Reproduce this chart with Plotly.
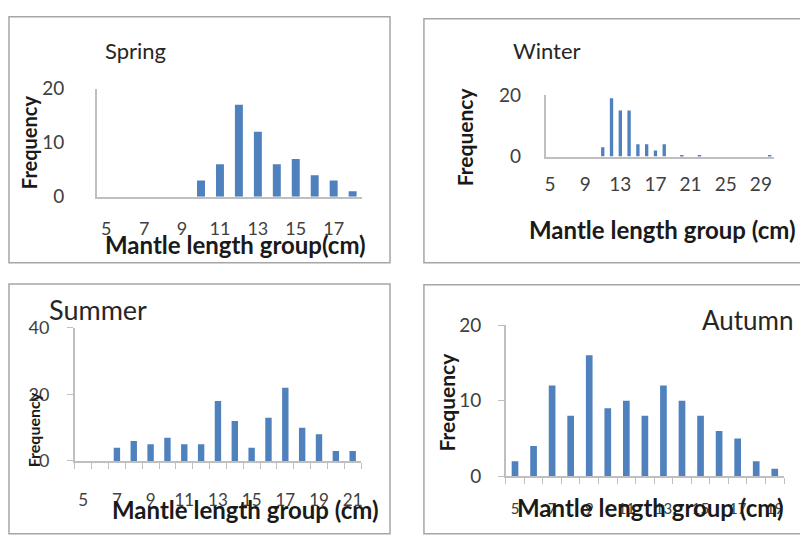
import plotly.graph_objects as go

W, H = 800, 539

# ---------------- data ----------------
spring_groups = [5, 6, 7, 8, 9, 10, 11, 12, 13, 14, 15, 16, 17, 18]
spring_freq = [0, 0, 0, 0, 0, 3, 6, 17, 12, 6, 7, 4, 3, 1]

winter_groups = [11, 12, 13, 14, 15, 16, 17, 18, 20, 22, 30]
winter_freq = [3, 19, 15, 15, 4, 4, 2, 4, 0.5, 0.5, 0.5]

summer_groups = [5, 6, 7, 8, 9, 10, 11, 12, 13, 14, 15, 16, 17, 18, 19, 20, 21]
summer_freq = [0, 0, 4, 6, 5, 7, 5, 5, 18, 12, 4, 13, 22, 10, 8, 3, 3]

autumn_groups = [5, 6, 7, 8, 9, 10, 11, 12, 13, 14, 15, 16, 17, 18, 19]
autumn_freq = [2, 4, 12, 8, 16, 9, 10, 8, 12, 10, 8, 6, 5, 2, 1]

spring_ticks = [5, 7, 9, 11, 13, 15, 17]
winter_ticks = [5, 9, 13, 17, 21, 25, 29]
summer_ticks = [5, 7, 9, 11, 13, 15, 17, 19, 21]
autumn_ticks = [5, 7, 9, 11, 13, 15, 17, 19]

BAR = "#4F81BD"
AX = "#BFBFBF"
TXT = "#404040"
FONT = "Lato"


def px(x):
    return x / W


def py(y):
    return 1 - y / H


fig = go.Figure()

panels = [
    # name, groups, freq, ticks, xrange, yrange, ydtick, xdom(px), ydom(px top,bottom), bar width,
    # x standoff, y standoff, minor ticks, x font, y font
    ("", spring_groups, spring_freq, spring_ticks, [4.5, 18.5], [0, 20], 10, (96, 362), (80, 193), 0.42, 15, 27, False, 18, 19),
    ("2", winter_groups, winter_freq, winter_ticks, [4.5, 30.5], [0, 20], 20, (546, 775), (87, 151), 0.38, 10, 19, False, 19, 19),
    ("3", summer_groups, summer_freq, summer_ticks, [4.5, 21.5], [0, 40], 20, (74, 361), (330, 469), 0.38, 23, 14, True, 17, 18),
    ("4", autumn_groups, autumn_freq, autumn_ticks, [4.5, 19.5], [0, 20], 10, (506, 785), (327, 485), 0.36, 18, 13, True, 15, 19),
]

for name, g, f, tv, xr, yr, ydt, xd, yd, bw, xs, ys, tk, xfs, yfs in panels:
    fig.add_trace(go.Bar(x=g, y=f, width=bw, marker=dict(color=BAR, line=dict(width=0)),
                         xaxis="x" + name, yaxis="y" + name, showlegend=False))
    xa = dict(domain=[px(xd[0]), px(xd[1])], range=xr, anchor="y" + name,
              tickvals=tv, ticktext=[str(v) for v in tv],
              showgrid=False, zeroline=False, showline=True, linecolor=AX, linewidth=1.5,
              ticks="", ticklabelstandoff=xs,
              tickfont=dict(family=FONT, size=xfs, color=TXT), fixedrange=True)
    if tk:
        xa["minor"] = dict(tick0=4.5, dtick=1, ticks="outside", ticklen=6, tickcolor=AX, tickwidth=1)
    ya = dict(domain=[py(yd[1]), py(yd[0])], range=yr, anchor="x" + name, dtick=ydt,
              showgrid=False, zeroline=False, showline=True, linecolor=AX, linewidth=1.5,
              ticks="outside" if tk else "", ticklen=6, tickcolor=AX,
              ticklabelstandoff=ys,
              tickfont=dict(family=FONT, size=yfs, color=TXT), fixedrange=True)
    fig.layout["xaxis" + name] = xa
    fig.layout["yaxis" + name] = ya

annotations = []


def ann(text, x, y, size, bold=False, angle=0, color="#262626"):
    annotations.append(dict(text=("<b>%s</b>" % text) if bold else text, x=px(x), y=py(y),
                            xref="paper", yref="paper", showarrow=False, textangle=angle,
                            xanchor="center", yanchor="middle",
                            font=dict(family=FONT, size=size, color=color)))


# season titles
ann("Spring", 135, 40, 22)
ann("Winter", 547, 40, 22)
ann("Summer", 97, 311, 27)
ann("Autumn", 748, 322, 26)

# x titles
ann("Mantle length group(cm)", 235, 243, 24, bold=True, color="#1a1a1a")
ann("Mantle length group (cm)", 663, 227, 24, bold=True, color="#1a1a1a")
ann("Mantle length group (cm)", 245, 520, 24, bold=True, color="#1a1a1a")
ann("Mantle length group (cm)", 651, 518, 24, bold=True, color="#1a1a1a")

# y titles
ann("Frequency", 28, 136, 20, bold=True, angle=-90, color="#1a1a1a")
ann("Frequency", 465, 130, 21, bold=True, angle=-90, color="#1a1a1a")
ann("Frequency", 32, 436, 16, bold=True, angle=-90, color="#1a1a1a")
ann("Frequency", 447, 407, 21, bold=True, angle=-90, color="#1a1a1a")

shapes = []
for x0, y0, x1, y1 in [(8, 5, 390, 262), (424, 7, 805, 262), (8, 284, 390, 545), (424, 285, 805, 545)]:
    shapes.append(dict(type="rect", xref="paper", yref="paper", x0=px(x0), x1=px(x1),
                       y0=py(y1), y1=py(y0), line=dict(color="#A6A6A6", width=1.5),
                       fillcolor="rgba(0,0,0,0)", layer="below"))

fig.update_layout(width=W, height=H, margin=dict(l=0, r=0, t=0, b=0),
                  paper_bgcolor="white", plot_bgcolor="white",
                  annotations=annotations, shapes=shapes, bargap=0.6)

fig.write_html("out.html")
